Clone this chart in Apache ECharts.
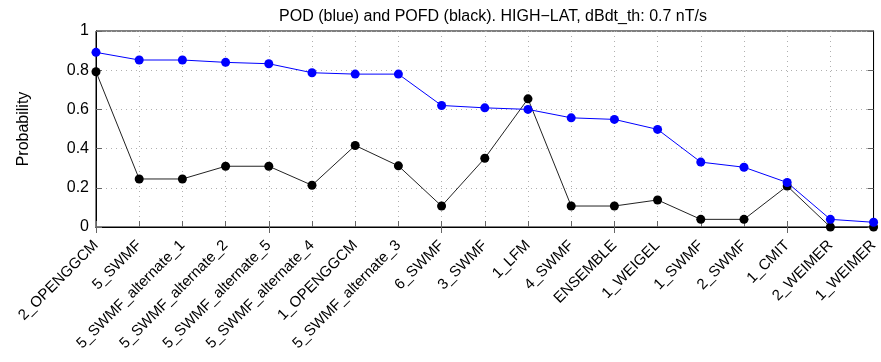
<!DOCTYPE html>
<html>
<head>
<meta charset="utf-8">
<script src="https://cdn.jsdelivr.net/npm/echarts@6/dist/echarts.min.js"></script>
<style>html,body{margin:0;padding:0;background:#fff}#c{width:881px;height:362px}</style>
</head>
<body>
<div id="c"></div>
<script>
const categories = ["2_OPENGGCM","5_SWMF","5_SWMF_alternate_1","5_SWMF_alternate_2","5_SWMF_alternate_5","5_SWMF_alternate_4","1_OPENGGCM","5_SWMF_alternate_3","6_SWMF","3_SWMF","1_LFM","4_SWMF","ENSEMBLE","1_WEIGEL","1_SWMF","2_SWMF","1_CMIT","2_WEIMER","1_WEIMER"];
const pod  = [0.891,0.852,0.852,0.840,0.833,0.787,0.780,0.780,0.620,0.608,0.600,0.557,0.549,0.498,0.331,0.305,0.227,0.039,0.024];
const pofd = [0.792,0.245,0.245,0.310,0.310,0.213,0.416,0.312,0.107,0.351,0.654,0.107,0.107,0.138,0.039,0.039,0.209,0.0,0.0];
const yTicks = ["0","0.2","0.4","0.6","0.8","1"];
const titleText = "POD (blue) and POFD (black). HIGH\u2212LAT, dBdt_th: 0.7 nT/s";
const yName = "Probability";

const font = "'Liberation Sans', Arial, Helvetica, sans-serif";
const chart = echarts.init(document.getElementById('c'), null, {renderer: 'canvas'});
const gridDots = {show: true, lineStyle: {color: '#b0b0b0', type: [1, 4], width: 1}};
chart.setOption({
  animation: false,
  backgroundColor: '#fff',
  title: {
    text: titleText, left: 488, top: 4, textAlign: 'center',
    textStyle: {fontFamily: font, fontSize: 16, fontWeight: 'normal', color: '#000'}
  },
  grid: {left: 96, right: 2, top: 31, bottom: 135, show: true, borderColor: '#000', borderWidth: 1},
  xAxis: [{
    type: 'category', data: categories, boundaryGap: false, position: 'bottom',
    axisLine: {lineStyle: {color: '#000', width: 1}},
    axisTick: {inside: true, length: 6, lineStyle: {color: '#666'}},
    axisLabel: {rotate: 45, margin: 16, interval: 0, fontFamily: font, fontSize: 15, color: '#000'},
    splitLine: gridDots
  }, {
    type: 'category', data: categories, boundaryGap: false, position: 'top',
    axisLine: {lineStyle: {color: '#000'}},
    axisTick: {inside: true, length: 6, lineStyle: {color: '#666'}},
    axisLabel: {show: false}, splitLine: {show: false}
  }],
  yAxis: [{
    type: 'value', min: 0, max: 1, interval: 0.2,
    name: yName, nameLocation: 'middle', nameGap: 64, nameRotate: 90,
    nameTextStyle: {fontFamily: font, fontSize: 16, color: '#000'},
    axisLine: {show: true, lineStyle: {color: '#000'}},
    axisTick: {show: true, inside: true, length: 6, lineStyle: {color: '#666'}},
    axisLabel: {fontFamily: font, fontSize: 16, color: '#000', margin: 7,
      formatter: (v) => yTicks[Math.round(v / 0.2)]},
    splitLine: gridDots
  }, {
    type: 'value', min: 0, max: 1, interval: 0.2, position: 'right',
    axisLine: {show: true, lineStyle: {color: '#000'}},
    axisTick: {show: true, inside: true, length: 6, lineStyle: {color: '#666'}},
    axisLabel: {show: false}, splitLine: {show: false}
  }],
  series: [{
    name: 'POD', type: 'line', data: pod, symbol: 'circle', symbolSize: 9,
    itemStyle: {color: '#0000ff'}, lineStyle: {color: '#0000ff', width: 1}, z: 3
  }, {
    name: 'POFD', type: 'line', data: pofd, symbol: 'circle', symbolSize: 9,
    itemStyle: {color: '#000'}, lineStyle: {color: '#222', width: 1}, z: 2
  }]
});
</script>
</body>
</html>
